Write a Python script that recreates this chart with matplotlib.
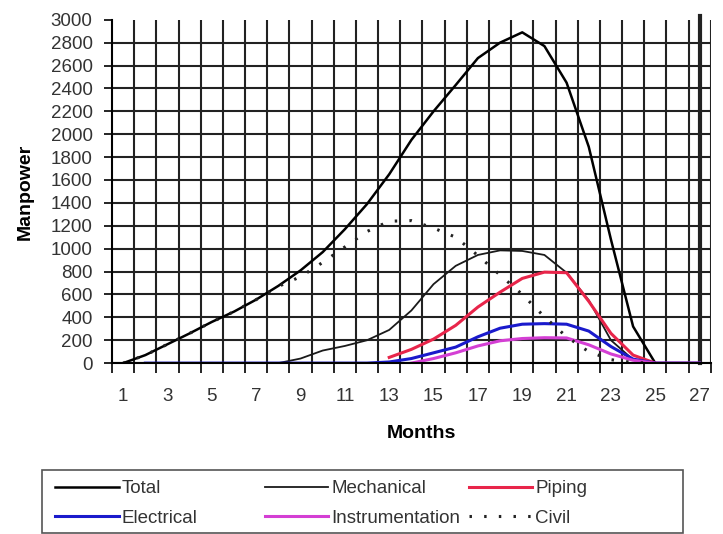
import numpy as np
import matplotlib
matplotlib.use('Agg')
import matplotlib.pyplot as plt
from matplotlib.patches import Rectangle

nan = np.nan

months = list(range(1, 28))
month_labels = [str(m) for m in range(1, 28, 2)]

total = [0, 70, 165, 260, 360, 450, 555, 675, 810, 970, 1170, 1390, 1650, 1950,
         2200, 2430, 2665, 2800, 2890, 2770, 2450, 1890, 1080, 320, 0, 0, 0]
mechanical = [nan, 0, 0, 0, 0, 0, 0, 0, 40, 110, 150, 200, 290, 460,
              690, 850, 945, 985, 980, 945, 790, 550, 200, 30, 0, nan, nan]
piping = [nan, nan, nan, nan, nan, nan, nan, nan, nan, nan, nan, nan, 50, 120,
          210, 330, 490, 620, 740, 795, 790, 540, 260, 70, 0, nan, nan]
electrical = [nan, 0, 0, 0, 0, 0, 0, 0, 0, 0, 0, 0, 10, 40,
              90, 140, 230, 305, 340, 345, 340, 280, 145, 35, 0, 0, 0]
instrumentation = [nan, nan, nan, nan, nan, nan, nan, nan, nan, nan, nan, nan, nan, 0,
                   40, 90, 150, 195, 215, 222, 220, 160, 80, 25, 0, 0, 0]
civil = [0, 70, 165, 260, 360, 450, 555, 670, 755, 880, 1015, 1150, 1240, 1245,
         1180, 1100, 940, 770, 600, 405, 230, 100, 30, 5, 0, nan, nan]

plt.rcParams['font.family'] = ['Liberation Sans', 'DejaVu Sans']

fig = plt.figure(figsize=(7.23, 5.34), dpi=100)
ax = fig.add_axes([0.155, 0.320, 0.828, 0.643])

# Gitter: Linien zwischen den Monaten und alle 200
ax.set_xlim(0.5, 27.5)
ax.set_ylim(0, 3000)
ax.set_xticks(np.arange(0.5, 28, 1))
ax.set_xticklabels([])
ax.set_xticks(range(1, 28, 2), minor=True)
ax.set_xticklabels(month_labels, minor=True, fontsize=13.5, color='#333333')
ax.tick_params(axis='x', which='major', length=7, width=1.2, direction='out')
ax.tick_params(axis='x', which='minor', length=0, pad=18)
ax.set_yticks(range(0, 3001, 200))
ax.tick_params(axis='y', length=6, width=1.2, labelsize=13.5, pad=8, labelcolor='#333333')

for y in range(0, 3000, 200):
    ax.axhline(y, color='#222222', lw=1.5, zorder=0)
for x in np.arange(1.5, 28, 1):
    ax.axvline(x, color='#222222', lw=1.5, zorder=0)

for side in ['top', 'right']:
    ax.spines[side].set_visible(False)
ax.spines['left'].set_linewidth(1.5)
ax.spines['bottom'].set_linewidth(1.5)

# dicker Strich beim letzten Monat
ax.axvline(months[-1], ymax=1.01, color='#222222', lw=3, zorder=1, clip_on=False)

l_total, = ax.plot(months, total, color='black', lw=1.8, label='Total')
l_mech, = ax.plot(months, mechanical, color='#1a1a1a', lw=1.3, label='Mechanical')
l_pip, = ax.plot(months, piping, color='#e8254a', lw=2.2, label='Piping')
l_ele, = ax.plot(months, electrical, color='#1a1acc', lw=2.2, label='Electrical')
l_ins, = ax.plot(months, instrumentation, color='#d43fd4', lw=2.2, label='Instrumentation')
l_civ, = ax.plot(months, civil, color='#222222', lw=2.2, linestyle=(0, (0.8, 4)),
                 label='Civil')

ax.set_xlabel('Months', fontsize=14, fontweight='bold')
ax.xaxis.set_label_coords(0.516, -0.18)
ax.set_ylabel('Manpower', fontsize=14, fontweight='bold', labelpad=12)

# Legende: drei Spalten gleicher Breite, Rahmen extra
fig.patches.append(Rectangle((0.058, 0.002), 0.887, 0.118, transform=fig.transFigure,
                             fill=False, edgecolor='#555555', lw=1.2))
columns = [[l_total, l_ele], [l_mech, l_ins], [l_pip, l_civ]]
col_x = [0.076, 0.366, 0.648]
for hs, x in zip(columns, col_x):
    leg = fig.legend(hs, [h.get_label() for h in hs], loc='upper left',
                     bbox_to_anchor=(x, 0.1005), fontsize=13.5, frameon=False,
                     handlelength=3.4, handletextpad=0.15, borderaxespad=0,
                     labelspacing=0.66, borderpad=0)
    for t in leg.get_texts():
        t.set_color('#333333')

plt.savefig('out.png', dpi=100)
